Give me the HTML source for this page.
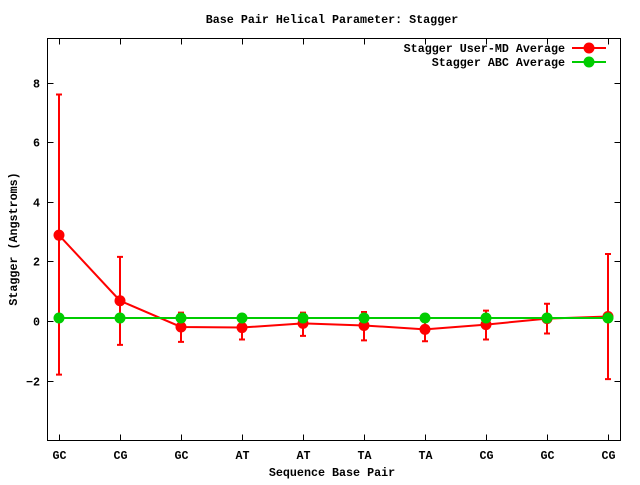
<!DOCTYPE html>
<html><head><meta charset="utf-8"><style>
body{margin:0;background:#fff}
svg text{font-family:"Liberation Mono","DejaVu Sans Mono",monospace;font-weight:bold;font-size:11.7px}
</style></head><body>
<svg id="c" width="640" height="480">
<text x="332" y="23" text-anchor="middle">Base Pair Helical Parameter: Stagger</text>
<text x="332" y="476" text-anchor="middle">Sequence Base Pair</text>
<text transform="translate(17,239) rotate(-90)" text-anchor="middle">Stagger (Angstroms)</text>
<g id="g"></g>
</svg>
<script>
const categories=["GC","CG","GC","AT","AT","TA","TA","CG","GC","CG"];
const mdValues=[2.88,0.68,-0.2,-0.22,-0.08,-0.15,-0.28,-0.12,0.08,0.15];
const mdLow=[-1.8,-0.8,-0.7,-0.62,-0.5,-0.65,-0.68,-0.62,-0.42,-1.95];
const mdHigh=[7.6,2.15,0.28,0.1,0.28,0.3,0.1,0.35,0.58,2.25];
const abcValues=[0.1,0.1,0.1,0.1,0.1,0.1,0.1,0.1,0.1,0.1];
const yTicks=[-2,0,2,4,6,8];
const L=47.5,R=620.5,T=38.5,B=440.5;
const sx=i=>59+61*i;
const sy=v=>321-29.8*v;
const g=document.getElementById('g');
const NS="http://www.w3.org/2000/svg";
function mk(t,a){const e=document.createElementNS(NS,t);for(const k in a)e.setAttribute(k,a[k]);g.appendChild(e);return e;}
let f=mk('rect',{x:L,y:T,width:R-L,height:B-T,fill:'none',stroke:'#000'});


yTicks.forEach(v=>{const y=Math.round(sy(v))+0.5;
let t=mk('path',{d:`M${L} ${y}h6M${R} ${y}h-6`,stroke:'#000'});


let l=mk('text',{x:40,y:y+4,'text-anchor':'end'});l.textContent=v===-2?'\u22122':v;

});
categories.forEach((c,i)=>{const x=Math.round(sx(i))+0.5;
let t=mk('path',{d:`M${x} ${B}v-6M${x} ${T}v6`,stroke:'#000'});


let l=mk('text',{x:x,y:459,'text-anchor':'middle'});l.textContent=c;

});
categories.forEach((c,i)=>{const x=sx(i),y1=sy(mdLow[i]),y2=sy(mdHigh[i]);
let e=mk('path',{d:`M${x} ${y1}V${y2}M${x-3} ${y1}h6M${x-3} ${y2}h6`,stroke:'#f00','stroke-width':2});

});
let lm=mk('polyline',{points:mdValues.map((v,i)=>sx(i)+','+sy(v)).join(' '),fill:'none',stroke:'#f00','stroke-width':2});


let la=mk('polyline',{points:abcValues.map((v,i)=>sx(i)+','+sy(v)).join(' '),fill:'none',stroke:'#0c0','stroke-width':2});


mdValues.forEach((v,i)=>{let p=mk('circle',{cx:sx(i),cy:sy(v),r:5.5,fill:'#f00'});

});
abcValues.forEach((v,i)=>{let p=mk('circle',{cx:sx(i),cy:sy(v),r:5.5,fill:'#0c0'});

});
[["Stagger User-MD Average","#f00",48],["Stagger ABC Average","#0c0",62]].forEach(([t,c,y])=>{
let tx=mk('text',{x:565,y:y+4,'text-anchor':'end'});tx.textContent=t;


let ln=mk('path',{d:`M572 ${y}h34`,stroke:c,'stroke-width':2});


let dt=mk('circle',{cx:589,cy:y,r:5.5,fill:c});

});
</script>
</body></html>
